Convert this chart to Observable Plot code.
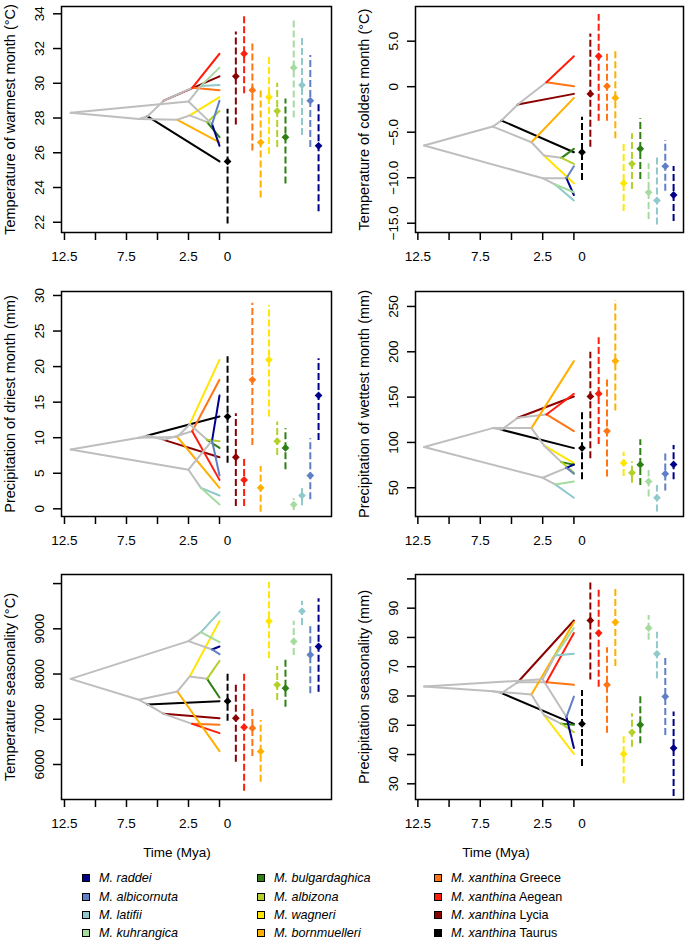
<!DOCTYPE html>
<html><head><meta charset="utf-8">
<script src="https://cdn.jsdelivr.net/npm/d3@7"></script>
<script src="https://cdn.jsdelivr.net/npm/@observablehq/plot@0.6"></script>
<style>
body{margin:0;background:#fff;}
#root{position:relative;width:685px;height:942px;font-family:"Liberation Sans",Arial,sans-serif;overflow:hidden;}
.panel{position:absolute;}
.xt{position:absolute;font-size:13.5px;transform:translate(-50%,-50%);white-space:nowrap;color:#000;}
.leg{position:absolute;font-size:12.6px;white-space:nowrap;line-height:1;transform:translateY(-50%);color:#000;}
.sw{position:absolute;width:8px;height:8px;box-sizing:border-box;border:1px solid #000;transform:translate(-50%,-50%);}
</style></head><body><div id="root"></div>
<script>
// ---- taxa (legend order) ----
const taxa = ["M. raddei","M. albicornuta","M. latifii","M. kuhrangica","M. bulgardaghica","M. albizona","M. wagneri","M. bornmuelleri","M. xanthina Greece","M. xanthina Aegean","M. xanthina Lycia","M. xanthina Taurus"];
const colors = ["#00008B","#5F7FC6","#8FC9CC","#A6DBA0","#2E8014","#B3D12A","#FFE600","#FFB000","#FF7514","#FF1E0E","#8B0000","#000000"];
const treeGray = "#BEBEBE";

// ---- tree: internal nodes, ages (Mya), edges (numbers = tip index into taxa) ----
const nodeNames = ["root","N1","N2","N3","N4","N5","N6","N7","R","RA","RB"];
const nodeAges  = [12.0, 6.5, 5.8, 4.5, 2.2, 3.4, 2.4, 1.0, 2.5, 0.6, 1.5];
const edges = [["root","N1"],["N1","N2"],["N2",11],["N2","N3"],["N3",10],["N3","N4"],["N4",8],["N4",9],
  ["N1","N5"],["N5",7],["N5","N6"],["N6",6],["N6","N7"],["N7",4],["N7",5],
  ["root","R"],["R","RA"],["RA",0],["RA",1],["R","RB"],["RB",2],["RB",3]];

// ---- x axis ticks / labels ----
const xTicks = [-12.5,-10,-7.5,-5,-2.5,0];
const xLabelPos = [-12.5,-7.5,-2.5,0.65];
const xLabelText = ["12.5","7.5","2.5","0"];
const barStart = 0.65, barStep = 0.667;

// ---- Panel 1: Temperature of warmest month ----
const warmMean = [26.4,29.0,29.9,30.9,26.9,28.4,29.2,26.6,29.6,31.7,30.4,25.5];
const warmLow  = [22.6,26.3,27.0,28.0,24.2,26.3,25.9,23.4,26.1,29.4,27.6,21.9];
const warmHigh = [28.8,31.6,32.75,33.7,29.1,30.0,31.6,29.55,32.3,33.85,32.95,28.5];
const warmTip  = warmMean;
const warmNode = [28.3,27.95,28.1,29.0,29.74,27.9,28.15,27.76,28.95,27.65,29.85];
const warmTicks = [22,24,26,28,30,32,34];
const warmTickLabels = ["22","24","26","28","30","32","34"];

// ---- Panel 2: Temperature of coldest month ----
const coldMean = [-11.9,-8.74,-12.5,-11.6,-6.83,-8.48,-10.6,-1.23,0.05,3.35,-0.79,-7.2];
const coldLow  = [-14.8,-11.5,-15.2,-14.6,-10.2,-11.3,-13.7,-5.73,-3.8,-3.8,-6.65,-10.3];
const coldHigh = [-8.77,-5.9,-7.67,-8.48,-3.53,-5.18,-6.2,4.16,3.79,7.93,5.8,-3.35];
const coldTip  = coldMean;
const coldNode = [-6.47,-4.38,-3.72,-1.96,0.49,-6.1,-7.56,-7.82,-10.05,-10.05,-10.75];
const coldTicks = [-15,-10,-5,0,5];
const coldTickLabels = ["\u221215.0","\u221210.0","\u22125.0","0","5.0"];

// ---- Panel 3: Precipitation of driest month ----
const dryMean = [15.94,4.68,1.87,0.6,8.57,9.51,20.95,2.95,18.14,4.07,7.26,12.98];
const dryLow  = [9.6,1.26,0.42,-0.24,5.48,7.5,12.9,-0.47,8.9,0.33,0.33,6.42];
const dryHigh = [21.1,9.84,3.14,1.4,11.25,12.2,28.6,5.95,28.9,7.26,13.36,21.4];
const dryTip  = dryMean;
const dryNode = [8.34,10.0,10.3,9.7,10.9,10.1,11.9,9.7,5.5,9.6,2.95];
const dryTicks = [0,5,10,15,20,25,30];
const dryTickLabels = ["0","5","10","15","20","25","30"];

// ---- Panel 4: Precipitation of wettest month ----
const wetMean = [75.7,65.4,39.0,57.0,75.4,66.5,77.2,189.7,112.5,153.7,150.7,93.75];
const wetLow  = [58.8,46.3,23.2,39.7,52.6,55.0,62.5,134.6,61.8,97.8,82.0,58.8];
const wetHigh = [96.7,90.4,52.6,69.1,103.0,78.3,89.3,256.6,171.3,215.4,199.6,136.0];
const wetTip  = wetMean;
const wetNode = [94.9,115.8,114.0,127.2,130.9,115.8,96.7,78.3,61.0,72.0,53.7];
const wetTicks = [50,100,150,200,250];
const wetTickLabels = ["50","100","150","200","250"];

// ---- Panel 5: Temperature seasonality ----
const tsMean = [8609,8425,9391,8720,7688,7762,9170,6288,6804,6826,7025,7400];
const tsLow  = [7600,7563,9074,8410,7268,7415,8337,5609,6177,5410,6052,6958];
const tsHigh = [9663,9111,9612,9170,8314,8167,10032,6973,7268,8064,7769,8042];
const tsTip  = [8609,8440,9370,8705,7480,8290,9170,6295,6877,6693,7025,7400];
const tsNode = [7894,7430,7327,7120,6899,7614,7946,7894,8727,8543,8926];
const tsTicks = [6000,7000,8000,9000,10000];
const tsTickLabels = ["6000","7000","8000","9000",""];

// ---- Panel 6: Precipitation seasonality ----
const psMean = [42.2,59.8,74.4,83.2,50.15,47.6,40.2,85.2,63.8,81.5,85.8,50.5];
const psLow  = [25.7,46.5,65.9,79.0,43.7,42.5,30.0,70.1,47.3,63.0,65.5,35.9];
const psHigh = [54.5,73.3,81.8,87.5,60.2,53.9,46.8,96.6,76.5,96.9,98.9,61.9];
const psTip  = psMean;
const psNode = [63.24,61.6,61.0,64.7,64.7,60.5,53.5,50.5,65.7,52.8,73.8];
const psTicks = [30,40,50,60,70,80,90,100];
const psTickLabels = ["30","40","50","60","70","80","90",""];

const panels = [
  {label:"Temperature of warmest month (°C)", mean:warmMean, low:warmLow, high:warmHigh, tip:warmTip, node:warmNode, ticks:warmTicks, tickLabels:warmTickLabels, domain:[21.41,34.42], col:0, row:0},
  {label:"Temperature of coldest month (°C)", mean:coldMean, low:coldLow, high:coldHigh, tip:coldTip, node:coldNode, ticks:coldTicks, tickLabels:coldTickLabels, domain:[-16.02,8.81], col:1, row:0},
  {label:"Precipitation of driest month (mm)", mean:dryMean, low:dryLow, high:dryHigh, tip:dryTip, node:dryNode, ticks:dryTicks, tickLabels:dryTickLabels, domain:[-1.08,30.56], col:0, row:1},
  {label:"Precipitation of wettest month (mm)", mean:wetMean, low:wetLow, high:wetHigh, tip:wetTip, node:wetNode, ticks:wetTicks, tickLabels:wetTickLabels, domain:[18.3,266.5], col:1, row:1},
  {label:"Temperature seasonality (°C)", mean:tsMean, low:tsLow, high:tsHigh, tip:tsTip, node:tsNode, ticks:tsTicks, tickLabels:tsTickLabels, domain:[5226,10201], col:0, row:2},
  {label:"Precipitation seasonality (mm)", mean:psMean, low:psLow, high:psHigh, tip:psTip, node:psNode, ticks:psTicks, tickLabels:psTickLabels, domain:[24.64,101.5], col:1, row:2}
];

const root = document.getElementById("root");
const rowTops = [0, 285, 568];
const rowFrameH = [226, 225, 225];
const fontFamily = '"Liberation Sans", Arial, sans-serif';

function makePanel(p) {
  const leftCol = p.col === 0;
  const width = leftCol ? 342 : 331;
  const marginLeft = 61, marginRight = leftCol ? 11 : 2;
  const xDomain = leftCol ? [-12.74, 9.03] : [-12.69, 8.78];
  const marginTop = 6, height = 280;
  const marginBottom = height - marginTop - rowFrameH[p.row];
  const pos = (n) => typeof n === "number"
    ? {age: 0, v: p.tip[n]}
    : {age: nodeAges[nodeNames.indexOf(n)], v: p.node[nodeNames.indexOf(n)]};
  const links = edges.map(([a, b]) => {
    const A = pos(a), B = pos(b);
    return {x1: -A.age, y1: A.v, x2: -B.age, y2: B.v, color: typeof b === "number" ? colors[b] : treeGray};
  });
  const bars = taxa.map((t, i) => ({x: barStart + (taxa.length - 1 - i) * barStep, lo: p.low[i], hi: p.high[i], m: p.mean[i], color: colors[i]}));
  const xLab = new Map(xLabelPos.map((v, i) => [v, xLabelText[i]]));
  const yLab = new Map(p.ticks.map((v, i) => [v, p.tickLabels[i]]));
  const svg = Plot.plot({
    width, height, marginLeft, marginRight, marginTop, marginBottom,
    x: {domain: xDomain, label: null},
    y: {domain: p.domain, label: null},
    color: {type: "identity"},
    style: {fontFamily, fontSize: "13.5px", background: "transparent", color: "#000"},
    marks: [
      Plot.link(links, {x1: "x1", y1: "y1", x2: "x2", y2: "y2", stroke: "color", strokeWidth: 2, strokeLinecap: "round"}),
      Plot.ruleX(bars, {x: "x", y1: "lo", y2: "hi", stroke: "color", strokeWidth: 2, strokeDasharray: "7,3"}),
      Plot.dot(bars, {x: "x", y: "m", fill: "color", symbol: "diamond2", r: 3.5}),
      Plot.frame({stroke: "#000", strokeWidth: 1.5}),
      Plot.axisX({ticks: xTicks, tickFormat: () => "", tickSize: 8, strokeWidth: 1.5, label: null}),
      Plot.axisX({ticks: xLabelPos, tickFormat: d => xLab.get(d), tickSize: 0, tickPadding: 19, label: null}),
      Plot.axisY({ticks: p.ticks, tickFormat: d => yLab.get(d), tickSize: 8, tickPadding: 10, tickRotate: -90, strokeWidth: 1.5, label: null}),
      Plot.axisY({ticks: [], label: p.label, labelAnchor: "center", labelOffset: 57, labelArrow: "none", fontSize: 14.5})
    ]
  });
  svg.classList.add("panel");
  svg.style.left = (leftCol ? 0 : 354) + "px";
  svg.style.top = rowTops[p.row] + "px";
  root.appendChild(svg);
}
panels.forEach(makePanel);

// ---- "Time (Mya)" labels ----
const timeLabel = "Time (Mya)";
[[177, 852], [496, 852]].forEach(([x, y]) => {
  const d = document.createElement("div");
  d.className = "xt"; d.textContent = timeLabel;
  d.style.left = x + "px"; d.style.top = y + "px";
  root.appendChild(d);
});

// ---- legend ----
const legSwX = [86, 260.5, 438], legTextX = [99, 274, 451];
const legRowY = [878.3, 896.7, 915, 933.2];
taxa.forEach((name, i) => {
  const c = Math.floor(i / 4), r = i % 4;
  const sw = document.createElement("div");
  sw.className = "sw"; sw.style.background = colors[i];
  sw.style.left = legSwX[c] + "px"; sw.style.top = legRowY[r] + "px";
  root.appendChild(sw);
  const t = document.createElement("div");
  t.className = "leg";
  t.style.left = legTextX[c] + "px"; t.style.top = legRowY[r] + "px";
  const m = name.match(/^(M\. xanthina) (.*)$/);
  if (m) t.innerHTML = "<i>" + m[1] + "</i> " + m[2];
  else t.innerHTML = "<i>" + name + "</i>";
  root.appendChild(t);
});
</script></body></html>
